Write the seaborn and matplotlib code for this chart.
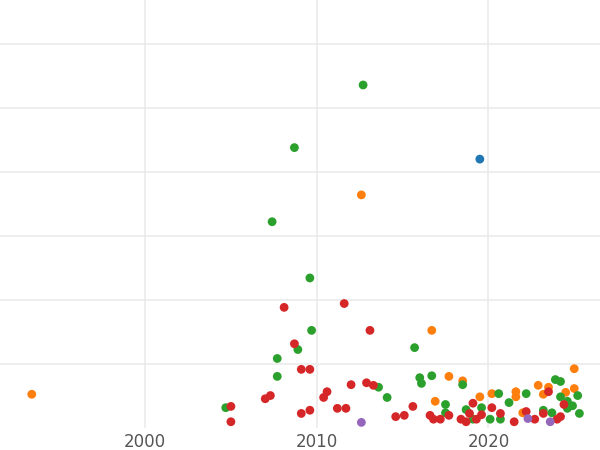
import pandas as pd
import seaborn as sns
import matplotlib
matplotlib.use('Agg')
import matplotlib.pyplot as plt

# Values (year, value) per group
orange_x = [1993.4, 2012.6, 2016.7, 2016.9, 2017.7, 2018.5, 2019.5, 2020.2, 2021.6, 2021.6, 2022.0,
            2022.9, 2023.2, 2023.5, 2024.5, 2025.0, 2025.0]
orange_y = [0.52, 3.64, 1.52, 0.41, 0.80, 0.73, 0.48, 0.53, 0.56, 0.48, 0.23,
            0.66, 0.52, 0.63, 0.55, 0.92, 0.61]
blue_x = [2019.5]
blue_y = [4.2]
green_x = [2012.7, 2008.7, 2007.4, 2009.6, 2009.7, 2007.7, 2008.9, 2007.7, 2004.7, 2013.6, 2014.1,
           2015.7, 2016.0, 2016.1, 2016.7, 2017.5, 2017.5, 2018.5, 2018.7, 2019.6, 2020.1, 2020.6,
           2021.2, 2022.2, 2023.2, 2023.7, 2023.9, 2024.2, 2024.2, 2024.6, 2024.6, 2024.9, 2025.2,
           2025.3, 2020.7, 2019.1]
green_y = [5.36, 4.38, 3.22, 2.34, 1.52, 1.08, 1.22, 0.80, 0.31, 0.63, 0.47,
           1.25, 0.78, 0.69, 0.81, 0.23, 0.36, 0.67, 0.28, 0.31, 0.13, 0.53,
           0.39, 0.53, 0.27, 0.23, 0.75, 0.72, 0.48, 0.41, 0.30, 0.34, 0.50,
           0.22, 0.13, 0.13]
red_x = [2008.1, 2011.6, 2013.1, 2008.7, 2009.6, 2009.1, 2005.0, 2005.0, 2007.0, 2007.3, 2010.4,
         2010.6, 2012.0, 2012.9, 2013.3, 2009.1, 2009.6, 2011.2, 2011.7, 2014.6, 2015.1, 2015.6,
         2016.6, 2016.8, 2017.2, 2017.7, 2018.4, 2018.7, 2019.1, 2018.9, 2019.3, 2019.6, 2020.2,
         2020.7, 2021.5, 2022.2, 2022.7, 2023.2, 2023.5, 2024.0, 2024.2, 2024.4]
red_y = [1.88, 1.94, 1.52, 1.31, 0.91, 0.91, 0.33, 0.09, 0.45, 0.50, 0.47,
         0.56, 0.67, 0.70, 0.66, 0.22, 0.27, 0.30, 0.30, 0.17, 0.19, 0.33,
         0.19, 0.13, 0.13, 0.19, 0.13, 0.09, 0.38, 0.22, 0.13, 0.20, 0.31,
         0.22, 0.09, 0.25, 0.13, 0.22, 0.56, 0.13, 0.17, 0.36]
purple_x = [2012.6, 2022.3, 2023.6]
purple_y = [0.08, 0.14, 0.09]

groups = [('A', blue_x, blue_y), ('B', orange_x, orange_y), ('C', green_x, green_y),
          ('D', red_x, red_y), ('E', purple_x, purple_y)]
df = pd.concat([pd.DataFrame({'year': xs, 'value': ys, 'group': g}) for g, xs, ys in groups])

sns.set_style("whitegrid")
fig = plt.figure(figsize=(6, 4.5), dpi=100)
ax = fig.add_axes([0, 0.05, 1, 0.95])
palette = dict(zip(['A', 'B', 'C', 'D', 'E'], sns.color_palette('tab10')[:5]))
sns.scatterplot(data=df, x='year', y='value', hue='group', palette=palette, s=40,
                linewidth=0, ax=ax, legend=False, zorder=3)
ax.set_xlim(1991.55, 2026.5)
ax.set_ylim(0, 6.69)
ax.set_xticks([2000, 2010, 2020])
ax.set_yticks([1, 2, 3, 4, 5, 6])
ax.set_yticklabels([])
ax.tick_params(axis='x', labelsize=12, labelcolor='#555555', length=0, pad=4)
ax.tick_params(axis='y', length=0)
ax.grid(color='#ebebeb', linewidth=1.2)
for s in ax.spines.values():
    s.set_visible(False)
ax.set_xlabel('')
ax.set_ylabel('')
fig.savefig('out.png', dpi=100)
